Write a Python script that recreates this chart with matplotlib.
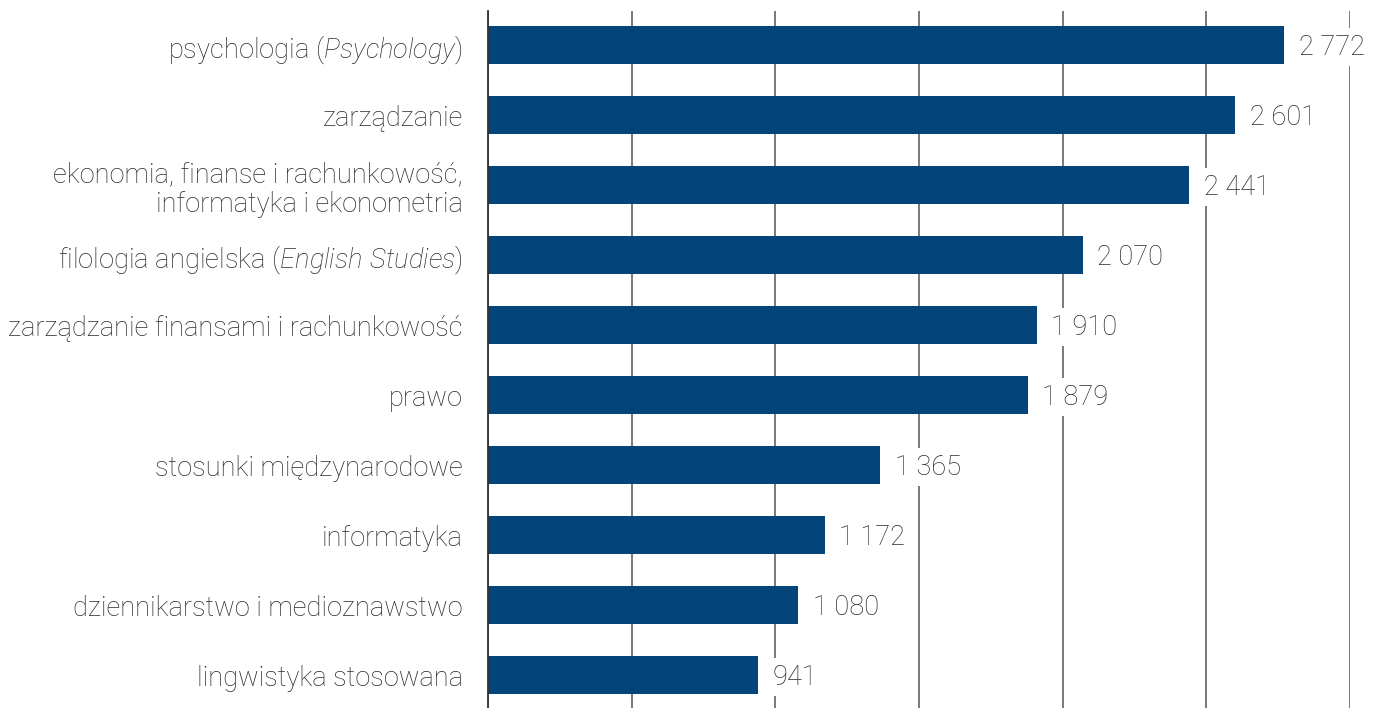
import matplotlib
matplotlib.use("Agg")
import matplotlib.pyplot as plt
from matplotlib.ticker import MultipleLocator

plt.rcParams['font.family'] = ['Roboto', 'DejaVu Sans']
plt.rcParams['font.weight'] = 'light'
plt.rcParams['mathtext.fontset'] = 'custom'
plt.rcParams['mathtext.rm'] = 'Roboto:light'
plt.rcParams['mathtext.it'] = 'Roboto:italic:light'

categories = [
    r"psychologia ($\mathit{Psychology}$)",
    "zarządzanie",
    "ekonomia, finanse i rachunkowość,\ninformatyka i ekonometria",
    r"filologia angielska ($\mathit{English\ Studies}$)",
    "zarządzanie finansami i rachunkowość",
    "prawo",
    "stosunki międzynarodowe",
    "informatyka",
    "dziennikarstwo i medioznawstwo",
    "lingwistyka stosowana",
]
values = [2772, 2601, 2441, 2070, 1910, 1879, 1365, 1172, 1080, 941]
value_labels = ["2 772", "2 601", "2 441", "2 070", "1 910", "1 879", "1 365", "1 172", "1 080", "941"]

bar_color = "#03457A"
text_color = "#2a2a2a"
FS = 19.6

fig = plt.figure(figsize=(13.73, 7.08), dpi=100)
ax = fig.add_axes([488/1373, 0.0, (1350-488)/1373, 1 - 11/708])

y = list(range(len(categories)))
ax.barh(y, values, height=0.54, color=bar_color, zorder=2)

ax.set_xlim(0, 3000)
ax.set_ylim(9.47, -0.486)
ax.xaxis.set_major_locator(MultipleLocator(500))
ax.grid(axis='x', color='#555555', linewidth=1.1, zorder=0)
ax.set_xticklabels([])
ax.tick_params(axis='x', length=0)
for s in ['top', 'right', 'bottom']:
    ax.spines[s].set_visible(False)
ax.spines['left'].set_color('#333333')
ax.spines['left'].set_linewidth(1.3)

ax.set_yticks(y)
ax.set_yticklabels(categories, fontsize=FS, color=text_color, linespacing=1.15)
ax.tick_params(axis='y', length=0, pad=18)

for yi, v, lab in zip(y, values, value_labels):
    ax.annotate(lab, xy=(v, yi), xytext=(10.5, -1.5), textcoords='offset points',
                ha='left', va='center', fontsize=FS, color=text_color,
                bbox=dict(boxstyle='square,pad=0.2', facecolor='white', edgecolor='none'),
                zorder=5, annotation_clip=False)

fig.savefig("out.png", dpi=100)
